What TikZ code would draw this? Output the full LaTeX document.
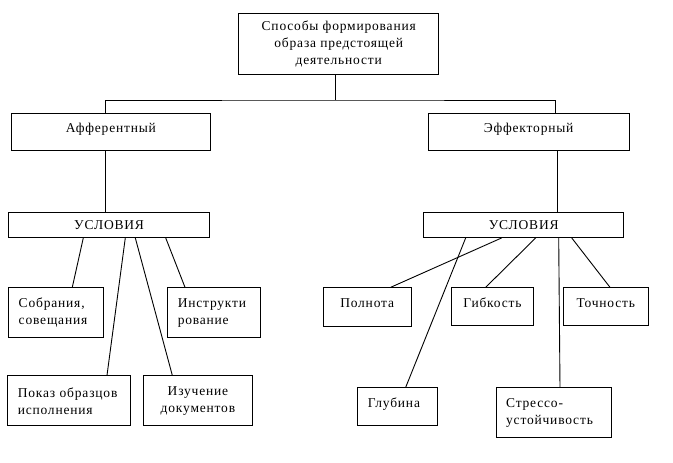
\documentclass[tikz,border=0pt]{standalone}
\usepackage{fontspec}
\setmainfont{Liberation Serif}[LetterSpace=6.0]
\begin{document}
\begin{tikzpicture}[x=1pt,y=-1pt,
  bx/.style={draw,line width=0.9pt,rectangle,inner sep=0pt,anchor=north west,
    font=\fontsize{13.5}{17}\selectfont},
  ln/.style={line width=0.9pt}]
\useasboundingbox (0,0) rectangle (673,463);
% level 0
\node[bx,minimum width=200pt,minimum height=61.5pt,align=center] (top) at (238.3,12.7)
  {Способы~формирования\\образа~предстоящей\\деятельности};
% level 1
\node[bx,minimum width=199.5pt,minimum height=37.5pt,text depth=8pt] (aff) at (10.7,112.7) {Афферентный};
\node[bx,minimum width=200.5pt,minimum height=37.5pt,text depth=8pt] (eff) at (428,112.7) {Эффекторный};
% level 2
\node[bx,minimum width=200.7pt,minimum height=24.7pt] (usl1) at (8.3,212.3) {УСЛОВИЯ};
\node[bx,minimum width=200pt,minimum height=24.7pt] (usl2) at (423.3,212.3) {УСЛОВИЯ};
% left children
\node[bx,minimum width=95pt,minimum height=50pt,text width=75pt,align=left] (sob) at (8.3,287.3)
  {Собрания,\\совещания};
\node[bx,minimum width=93pt,minimum height=50pt,text width=73pt,align=left] (ins) at (167.3,287.3)
  {Инструкти\\рование};
\node[bx,minimum width=123pt,minimum height=50pt,text width=103pt,align=left] (pok) at (7.3,375.3)
  {Показ~образцов\\исполнения};
\node[bx,minimum width=108.4pt,minimum height=50pt,align=center] (izu) at (143.3,375.3)
  {Изучение\\документов};
% right children
\node[bx,minimum width=88pt,minimum height=38.4pt,text depth=8pt] (pol) at (322.7,287.3) {Полнота};
\node[bx,minimum width=82.6pt,minimum height=38pt,text depth=8pt] (gib) at (450.7,287.3) {Гибкость};
\node[bx,minimum width=85.3pt,minimum height=38pt,text depth=8pt] (toc) at (562.7,287.3) {Точность};
\node[bx,minimum width=80pt,minimum height=37.7pt,text width=60pt,align=left,text depth=8pt] (glu) at (357.3,387.3) {Глубина};
\node[bx,minimum width=115pt,minimum height=50pt,text width=95pt,align=left] (str) at (495.7,387.3)
  {Стрессо-\\устойчивость};
% connectors
\coordinate (bus) at (335.7,100);
\draw[ln] ([xshift=97.4pt]top.south west) -- (bus);
\draw[ln] ([xshift=95pt]aff.north west) |- (bus) -| ([xshift=127.3pt]eff.north west);
\draw[ln] ([xshift=95pt]aff.south west) -- ([xshift=97.4pt]usl1.north west);
\draw[ln] ([xshift=129.3pt]eff.south west) -- ([xshift=134pt]usl2.north west);
% left
\draw[ln] ([xshift=75pt]usl1.south west) -- ([xshift=64pt]sob.north west);
\draw[ln] ([xshift=117pt]usl1.south west) -- ([xshift=99.7pt]pok.north west);
\draw[ln] ([xshift=127pt]usl1.south west) -- ([xshift=29pt]izu.north west);
\draw[ln] ([xshift=157.4pt]usl1.south west) -- ([xshift=17.7pt]ins.north west);
% right
\draw[ln] ([xshift=42.4pt]usl2.south west) -- ([xshift=48.4pt]glu.north west);
\draw[ln] ([xshift=78.4pt]usl2.south west) -- ([xshift=68pt]pol.north west);
\draw[ln] ([xshift=112.4pt]usl2.south west) -- ([xshift=35pt]gib.north west);
\draw[ln] ([xshift=135.4pt]usl2.south west) -- ([xshift=64.3pt]str.north west);
\draw[ln] ([xshift=148.4pt]usl2.south west) -- ([xshift=47.3pt]toc.north west);
\end{tikzpicture}
\end{document}
